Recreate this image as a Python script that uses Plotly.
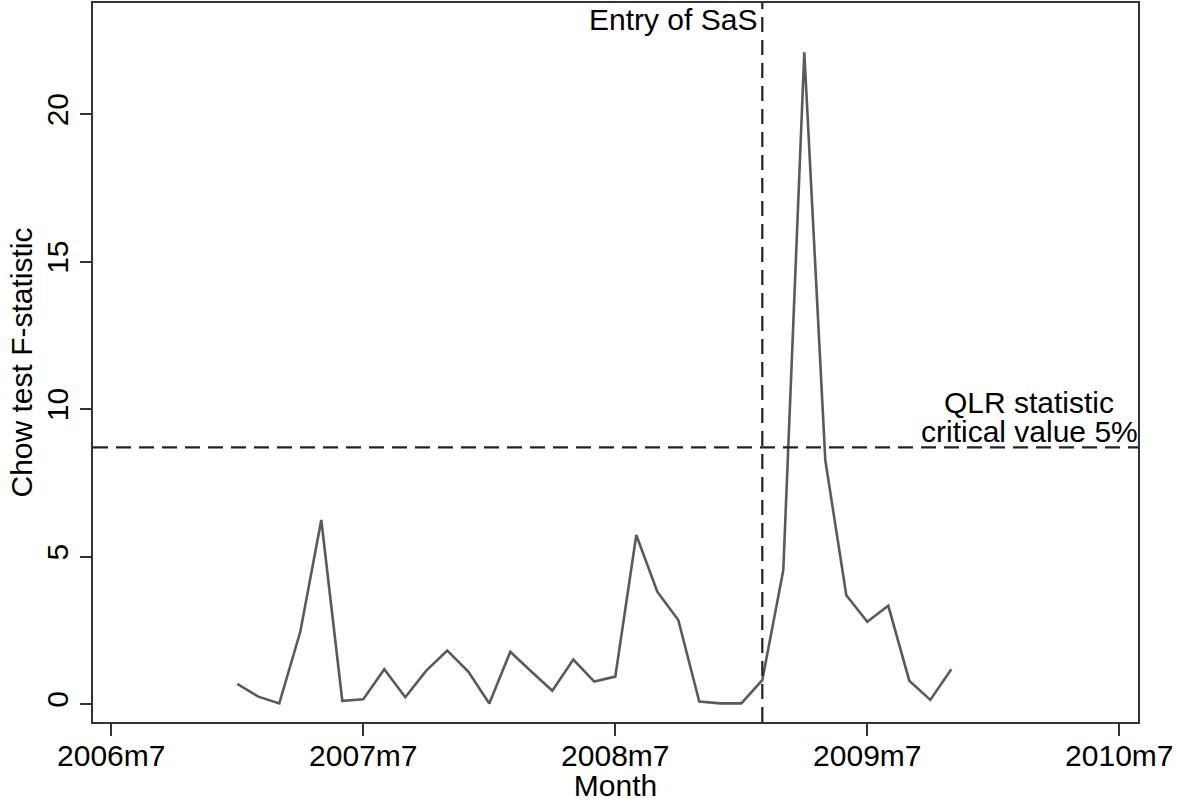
import plotly.graph_objects as go

# ---- data ----
months = ["2007m1", "2007m2", "2007m3", "2007m4", "2007m5", "2007m6", "2007m7", "2007m8",
          "2007m9", "2007m10", "2007m11", "2007m12", "2008m1", "2008m2", "2008m3", "2008m4",
          "2008m5", "2008m6", "2008m7", "2008m8", "2008m9", "2008m10", "2008m11", "2008m12",
          "2009m1", "2009m2", "2009m3", "2009m4", "2009m5", "2009m6", "2009m7", "2009m8",
          "2009m9", "2009m10", "2009m11"]
f_stat = [0.68, 0.25, 0.02, 2.45, 6.24, 0.11, 0.16, 1.18, 0.23, 1.13, 1.81, 1.10,
          0.02, 1.77, 1.10, 0.45, 1.51, 0.76, 0.93, 5.73, 3.81, 2.85, 0.08, 0.02,
          0.02, 0.81, 4.54, 22.1, 8.27, 3.69, 2.79, 3.33, 0.79, 0.14, 1.18]
tick_labels = ["2006m7", "2007m7", "2008m7", "2009m7", "2010m7"]
entry_month = "2009m2"
critical_value = 8.7


def month_index(label, base="2006m7"):
    y, m = label.split("m")
    by, bm = base.split("m")
    return (int(y) - int(by)) * 12 + (int(m) - int(bm))


x_vals = [month_index(m) for m in months]
tick_vals = [month_index(t) for t in tick_labels]
entry_x = month_index(entry_month)

FONT = "Liberation Sans, Arial, sans-serif"
FS = 30

fig = go.Figure()
fig.add_trace(go.Scatter(x=x_vals, y=f_stat, mode="lines",
                         line=dict(color="#5a5a5a", width=2.6),
                         showlegend=False, hoverinfo="skip"))

# reference lines
fig.add_shape(type="line", xref="paper", x0=0, x1=1, yref="y",
              y0=critical_value, y1=critical_value,
              line=dict(color="#222222", width=2.2, dash="15px,8px"))
fig.add_shape(type="line", xref="x", x0=entry_x, x1=entry_x, yref="paper",
              y0=0, y1=1, line=dict(color="#222222", width=2.2, dash="15px,8px"))

fig.add_annotation(text="Entry of SaS", xref="x", x=entry_x, xanchor="right",
                   xshift=-3, yref="paper", y=1, yanchor="top", yshift=2,
                   showarrow=False, font=dict(family=FONT, size=FS, color="black"))
fig.add_annotation(text="QLR statistic", xref="paper", x=0.8957, xanchor="center",
                   yref="y", y=critical_value, yanchor="middle", yshift=45,
                   showarrow=False, font=dict(family=FONT, size=FS, color="black"))
fig.add_annotation(text="critical value 5%", xref="paper", x=0.8957, xanchor="center",
                   yref="y", y=critical_value, yanchor="middle", yshift=16,
                   showarrow=False, font=dict(family=FONT, size=FS, color="black"))

fig.update_layout(
    width=1179, height=802,
    margin=dict(l=93, r=41, t=3, b=80, autoexpand=False),
    paper_bgcolor="white", plot_bgcolor="white",
    font=dict(family=FONT, size=FS, color="black"),
    xaxis=dict(range=[-0.87, 48.89], tickvals=tick_vals, ticktext=tick_labels,
               showgrid=False, zeroline=False, showline=True, mirror=True,
               linecolor="#333333", linewidth=2, ticks="outside", ticklen=12,
               tickcolor="#333333", tickwidth=1.5, ticklabelstandoff=-6,
               tickfont=dict(family=FONT, size=FS, color="black"),
               title=dict(text="Month", standoff=0,
                          font=dict(family=FONT, size=FS, color="black"))),
    yaxis=dict(range=[-0.61, 23.77], tickvals=[0, 5, 10, 15, 20],
               showgrid=False, zeroline=False, showline=True, mirror=True,
               linecolor="#333333", linewidth=1.5, ticks="outside", ticklen=11,
               tickcolor="#333333", tickwidth=1.5, tickangle=-90,
               tickfont=dict(family=FONT, size=FS, color="black"),
               title=dict(text="Chow test F-statistic", standoff=0,
                          font=dict(family=FONT, size=FS, color="black"))),
)

fig.write_html("out.html", config={"displayModeBar": False},
               post_script="document.body.style.margin='0px';document.body.style.overflow='hidden';")
